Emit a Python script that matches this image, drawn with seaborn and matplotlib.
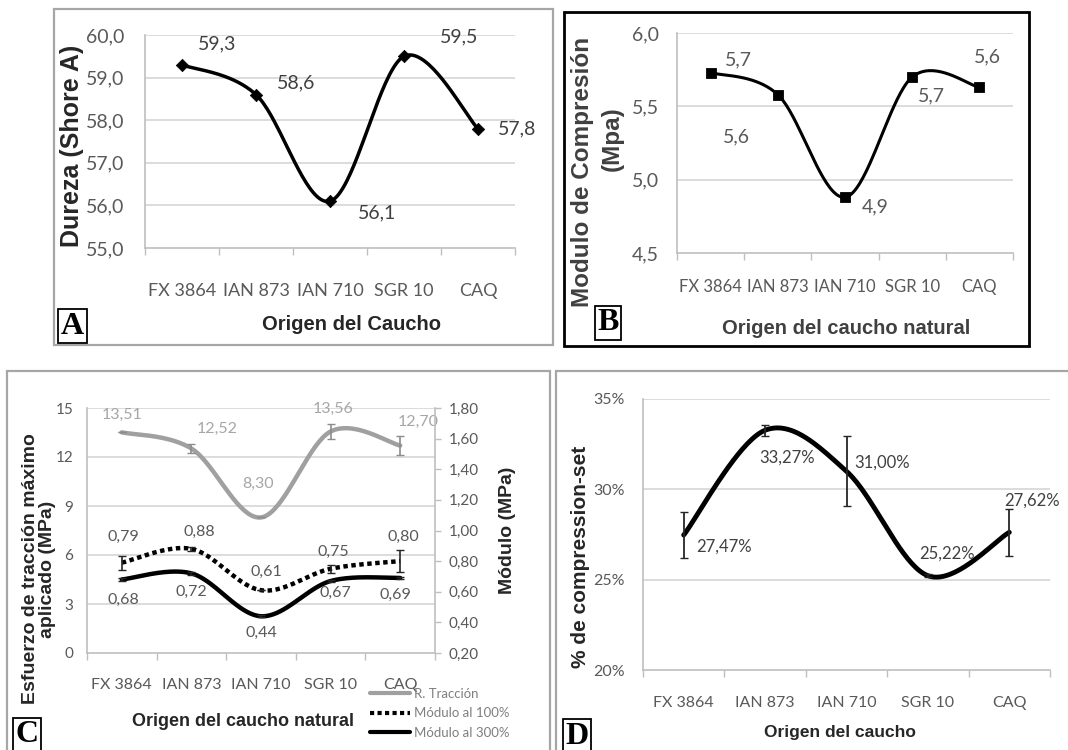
import numpy as np
import pandas as pd
import matplotlib
matplotlib.use("Agg")
import matplotlib.pyplot as plt
import seaborn as sns
from matplotlib.patches import Rectangle
from matplotlib.lines import Line2D

# ---------------- data ----------------
categories = ["FX 3864", "IAN 873", "IAN 710", "SGR 10", "CAQ"]

# Panel A
dureza = [59.3, 58.6, 56.1, 59.5, 57.8]
dureza_ticks = [55.0, 56.0, 57.0, 58.0, 59.0, 60.0]

# Panel B
mod_compresion = [5.73, 5.58, 4.88, 5.70, 5.63]
mod_compresion_ticks = [4.5, 5.0, 5.5, 6.0]

# Panel C
traccion = [13.51, 12.52, 8.30, 13.56, 12.70]
traccion_err = [0.0, 0.3, 0.0, 0.45, 0.6]
modulo_100 = [0.79, 0.88, 0.61, 0.75, 0.80]
modulo_100_err = [0.045, 0.015, 0.0, 0.027, 0.072]
modulo_300 = [0.68, 0.72, 0.44, 0.67, 0.69]
modulo_300_err = [0.008, 0.012, 0.008, 0.008, 0.008]
traccion_ticks = [0, 3, 6, 9, 12, 15]
modulo_ticks = [0.2, 0.4, 0.6, 0.8, 1.0, 1.2, 1.4, 1.6, 1.8]
legend_labels_c = ["R. Tracción", "Módulo al 100%", "Módulo al 300%"]

# Panel D
compression_set = [27.47, 33.27, 31.00, 25.22, 27.62]
compression_set_err = [1.25, 0.3, 1.95, 0.1, 1.3]
compression_ticks = [20, 25, 30, 35]

# ---------------- style ----------------
sns.set_theme(style="white")
plt.rcParams["font.family"] = ["Lato", "DejaVu Sans"]
TITLE_FONT = ["Liberation Sans", "DejaVu Sans"]
TICK_COLOR = "#595959"
GRID = "#d9d9d9"
AXIS = "#bfbfbf"

W, H = 1068, 750
fig = plt.figure(figsize=(W / 100, H / 100), dpi=100)
fig.patch.set_facecolor("white")


def axrect(x0, y0, x1, y1):
    return fig.add_axes([x0 / W, 1 - y1 / H, (x1 - x0) / W, (y1 - y0) / H])


def frame(x0, y0, x1, y1, color, lw):
    fig.add_artist(Rectangle((x0 / W, 1 - y1 / H), (x1 - x0) / W, (y1 - y0) / H,
                             transform=fig.transFigure, fill=False, ec=color, lw=lw))


def smooth(values, n=40):
    """Excel-like smoothed line (Bezier through the points, Catmull-Rom tangents)."""
    y = np.asarray(values, float)
    x = np.arange(len(y), dtype=float)
    xs, ys = [], []
    m = len(y)
    for i in range(m - 1):
        p0 = max(i - 1, 0)
        p3 = min(i + 2, m - 1)
        c1x = x[i] + (x[i + 1] - x[p0]) / 6
        c1y = y[i] + (y[i + 1] - y[p0]) / 6
        c2x = x[i + 1] - (x[p3] - x[i]) / 6
        c2y = y[i + 1] - (y[p3] - y[i]) / 6
        t = np.linspace(0, 1, n, endpoint=(i == m - 2))
        xs.append((1 - t) ** 3 * x[i] + 3 * (1 - t) ** 2 * t * c1x + 3 * (1 - t) * t ** 2 * c2x + t ** 3 * x[i + 1])
        ys.append((1 - t) ** 3 * y[i] + 3 * (1 - t) ** 2 * t * c1y + 3 * (1 - t) * t ** 2 * c2y + t ** 3 * y[i + 1])
    return pd.DataFrame({"x": np.concatenate(xs), "y": np.concatenate(ys)})


def style_axis(ax, ylim, yticks, fmt, ytick_size, xtick_size, xpad, ypad, grid_vals=None):
    ax.set_xlim(-0.5, len(categories) - 0.5)
    ax.set_ylim(*ylim)
    ax.set_xticks(range(len(categories)))
    ax.set_xticklabels(categories)
    ax.set_xticks(np.arange(-0.5, len(categories), 1.0), minor=True)
    ax.tick_params(axis="x", which="major", length=0, pad=xpad, labelsize=xtick_size, labelcolor=TICK_COLOR)
    ax.tick_params(axis="x", which="minor", length=5, width=1, color=AXIS, direction="out", bottom=True)
    ax.set_yticks(yticks)
    ax.set_yticklabels([fmt(v) for v in yticks])
    ax.tick_params(axis="y", length=0, pad=ypad, labelsize=ytick_size, labelcolor=TICK_COLOR)
    ax.grid(False)
    gv = yticks[1:] if grid_vals is None else grid_vals
    for v in gv:
        ax.axhline(v, color=GRID, lw=1.3, zorder=0)
    ax.set_axisbelow(True)
    for s in ["top", "right"]:
        ax.spines[s].set_visible(False)
    for s in ["left", "bottom"]:
        ax.spines[s].set_color(AXIS)
        ax.spines[s].set_linewidth(1.2)
    ax.set_facecolor("none")


def label_points(ax, values, offsets, fmt, size, color):
    # offsets are (right, down) in screen pixels
    for i, (v, off) in enumerate(zip(values, offsets)):
        ax.annotate(fmt(v), (i, v), xytext=(off[0], -off[1]), textcoords="offset pixels",
                    ha="center", va="center", fontsize=size, color=color, zorder=6)


def comma(v, d=1):
    return f"{v:.{d}f}".replace(".", ",")


def panel_letter(x, y, letter):
    fig.text(x / W, 1 - y / H, letter, ha="center", va="center", fontsize=23, fontweight="bold",
             family=["Liberation Serif", "DejaVu Serif"], color="black",
             bbox=dict(boxstyle="square,pad=0.08", fc="white", ec="black", lw=1.3), zorder=10)


# ---------------- frames ----------------
frame(54, 9, 553, 345, "#a6a6a6", 1.6)
frame(564, 12, 1029, 346, "black", 2.0)
frame(7, 371, 550, 760, "#a6a6a6", 1.6)
frame(556, 371, 1075, 760, "#a6a6a6", 1.6)

# ---------------- Panel A ----------------
axA = axrect(145, 35, 515, 248)
style_axis(axA, (55, 60), dureza_ticks, lambda v: comma(v, 1), 14, 13, 25, 15)
sns.lineplot(data=smooth(dureza), x="x", y="y", ax=axA, color="black", lw=2.5,
             estimator=None, sort=False, zorder=4)
sns.scatterplot(x=list(range(len(dureza))), y=dureza, ax=axA, marker="D", s=40,
                color="black", edgecolor="black", zorder=5)
label_points(axA, dureza, [(35, -21), (40, -12), (47, 12), (55, -19), (39, 0)],
             lambda v: comma(v, 1), 14, "#404040")
axA.set_xlabel("Origen del Caucho", fontsize=14.5, fontweight="bold", family=TITLE_FONT,
               color="#262626", va="center")
axA.xaxis.set_label_coords(351 / W, 1 - 325 / H, transform=fig.transFigure)
axA.set_ylabel("Dureza (Shore A)", fontsize=18, fontweight="bold", family=TITLE_FONT,
               color="#262626", va="center", ha="center")
axA.yaxis.set_label_coords(72 / W, 1 - 146 / H, transform=fig.transFigure)

# ---------------- Panel B ----------------
axB = axrect(677, 33, 1013, 253)
style_axis(axB, (4.5, 6.0), mod_compresion_ticks, lambda v: comma(v, 1), 14, 12, 19, 13)
sns.lineplot(data=smooth(mod_compresion), x="x", y="y", ax=axB, color="black", lw=2.2,
             estimator=None, sort=False, zorder=4)
sns.scatterplot(x=list(range(len(mod_compresion))), y=mod_compresion, ax=axB, marker="s", s=55,
                color="black", edgecolor="black", zorder=5)
label_points(axB, mod_compresion, [(28, -13), (-41, 42), (30, 10), (19, 19), (8, -30)],
             lambda v: comma(v, 1), 14, "#595959")
axB.set_xlabel("Origen del caucho natural", fontsize=14.5, fontweight="bold", family=TITLE_FONT,
               color="#404040", va="center")
axB.xaxis.set_label_coords(846 / W, 1 - 329 / H, transform=fig.transFigure)
axB.set_ylabel("Modulo de Compresión", fontsize=17.5, fontweight="bold", family=TITLE_FONT,
               color="#404040", va="center", ha="center")
axB.yaxis.set_label_coords(582 / W, 1 - 172 / H, transform=fig.transFigure)
fig.text(612 / W, 1 - 139 / H, "(Mpa)", rotation=90, ha="center", va="center", fontsize=17.5,
         fontweight="bold", family=TITLE_FONT, color="#404040")

# ---------------- Panel C ----------------
axC = axrect(87, 408, 435, 653)
style_axis(axC, (0, 15), traccion_ticks, lambda v: f"{v:d}", 11, 11.5, 18, 10)
axC2 = axC.twinx()
axC2.set_ylim(0.2, 1.8)
axC2.set_yticks(modulo_ticks)
axC2.set_yticklabels([comma(v, 2) for v in modulo_ticks])
axC2.tick_params(axis="y", right=True, length=4, width=1, color=AXIS, pad=6,
                 labelsize=11, labelcolor=TICK_COLOR)
axC2.grid(False)
for s in ["top", "left", "bottom"]:
    axC2.spines[s].set_visible(False)
axC2.spines["right"].set_color(AXIS)
axC2.spines["right"].set_linewidth(1.2)

xc = list(range(len(categories)))
sns.lineplot(data=smooth(traccion), x="x", y="y", ax=axC, color="#a0a0a0", lw=3.2,
             estimator=None, sort=False, zorder=4)
axC.errorbar(xc, traccion, yerr=traccion_err, fmt="none", ecolor="#8c8c8c", elinewidth=1.2,
             capsize=3, zorder=5)
label_points(axC, traccion, [(0, -17), (26, -20), (-3, -34), (3, -23), (18, -24)],
             lambda v: comma(v, 2), 11.5, "#a6a6a6")

sns.lineplot(data=smooth(modulo_100), x="x", y="y", ax=axC2, color="black", lw=3.2,
             linestyle=(0, (1, 0.8)), estimator=None, sort=False, zorder=4)
sns.lineplot(data=smooth(modulo_300), x="x", y="y", ax=axC2, color="black", lw=3.2,
             estimator=None, sort=False, zorder=4)
axC2.errorbar(xc, modulo_100, yerr=modulo_100_err, fmt="none", ecolor="#262626", elinewidth=1.2,
              capsize=3, zorder=5)
axC2.errorbar(xc, modulo_300, yerr=modulo_300_err, fmt="none", ecolor="#262626", elinewidth=1.2,
              capsize=3, zorder=5)
label_points(axC2, modulo_100, [(2, -26), (8, -17), (5, -18), (3, -17), (3, -24)],
             lambda v: comma(v, 2), 11.5, "#595959")
label_points(axC2, modulo_300, [(2, 20), (0, 19), (0, 17), (5, 12), (-5, 17)],
             lambda v: comma(v, 2), 11.5, "#595959")

axC.set_xlabel("Origen del caucho natural", fontsize=13, fontweight="bold", family=TITLE_FONT,
               color="#262626", va="center")
axC.xaxis.set_label_coords(243 / W, 1 - 721 / H, transform=fig.transFigure)
axC.set_ylabel("Esfuerzo de tracción máximo\naplicado (MPa)", fontsize=14, fontweight="bold",
               family=TITLE_FONT, color="#262626", va="center", ha="center", linespacing=1.0)
axC.yaxis.set_label_coords(39 / W, 1 - 569 / H, transform=fig.transFigure)
axC2.set_ylabel("Módulo (MPa)", fontsize=14, fontweight="bold", family=TITLE_FONT,
                color="#262626", va="center", ha="center", rotation=90)
axC2.yaxis.set_label_coords(507 / W, 1 - 530 / H, transform=fig.transFigure)

handles = [Line2D([], [], color="#a0a0a0", lw=3),
           Line2D([], [], color="black", lw=3, linestyle=(0, (1, 0.8))),
           Line2D([], [], color="black", lw=3)]
leg = axC.legend(handles, legend_labels_c, loc="upper left", bbox_to_anchor=(370 / W, 1 - 688 / H),
                 bbox_transform=fig.transFigure, frameon=False, fontsize=9.5, handlelength=3.0,
                 handletextpad=0.3, labelspacing=0.55, borderpad=0, borderaxespad=0)
for t in leg.get_texts():
    t.set_color("#7f7f7f")

# ---------------- Panel D ----------------
axD = axrect(643, 399, 1050, 670)
style_axis(axD, (20, 35), compression_ticks, lambda v: f"{v:d}%", 11.5, 11.5, 19, 13)
sns.lineplot(data=smooth(compression_set), x="x", y="y", ax=axD, color="black", lw=3.5,
             estimator=None, sort=False, zorder=4)
axD.errorbar(list(range(len(compression_set))), compression_set, yerr=compression_set_err,
             fmt="none", ecolor="#262626", elinewidth=1.3, capsize=3, zorder=5)
label_points(axD, compression_set, [(40, 12), (22, 27), (36, -9), (19, -22), (23, -32)],
             lambda v: comma(v, 2) + "%", 12, "#404040")
axD.set_xlabel("Origen del caucho", fontsize=12.5, fontweight="bold", family=TITLE_FONT,
               color="#262626", va="center")
axD.xaxis.set_label_coords(840 / W, 1 - 733 / H, transform=fig.transFigure)
axD.set_ylabel("% de compression-set", fontsize=15, fontweight="bold", family=TITLE_FONT,
               color="#262626", va="center", ha="center")
axD.yaxis.set_label_coords(580 / W, 1 - 557 / H, transform=fig.transFigure)

# ---------------- panel letters ----------------
panel_letter(72.5, 326, "A")
panel_letter(608, 323, "B")
panel_letter(27, 735, "C")
panel_letter(577, 736, "D")

fig.savefig("out.png", dpi=100, facecolor="white")
